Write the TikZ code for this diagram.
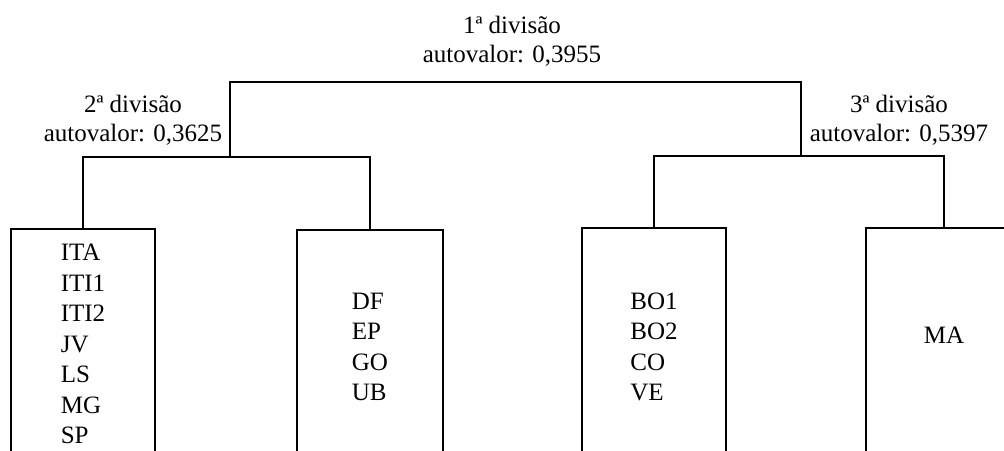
\documentclass[tikz,border=0pt]{standalone}
\usepackage{fontspec}
\setmainfont{Liberation Serif}
\usetikzlibrary{positioning}

\begin{document}
\begin{tikzpicture}[x=1pt, y=-1pt, line width=1.8pt,
  grupo/.style={draw, rectangle, anchor=north, inner sep=0pt, align=left,
    font=\fontsize{25}{30.5}\selectfont},
  rotulo/.style={anchor=south, inner sep=0pt, align=center,
    font=\fontsize{25}{29}\selectfont}]
  \useasboundingbox (0,0) rectangle (1004,450);
  \clip (0,0) rectangle (1004,450);
  % grupos
  \node[grupo, minimum width=144pt, minimum height=230pt] (g1) at (83,228)
    {ITA\\ITI1\\ITI2\\JV\\LS\\MG\\SP};
  \node[grupo, minimum width=146pt, minimum height=234pt] (g2) at (370,229)
    {DF\\EP\\GO\\UB};
  \node[grupo, minimum width=144pt, minimum height=238pt] (g3) at (654,227)
    {BO1\\BO2\\CO\\VE};
  \node[grupo, minimum width=156pt, minimum height=240pt, text depth=24.5pt]
    (g4) at (944,227) {MA};
  % divisiones
  \coordinate (d1) at (512,82);
  \coordinate (d2) at (230,157);
  \coordinate (d3) at (801,156);
  \draw (d2) |- (d1) -| (d3);
  \draw (g1.north) |- (d2) -| (g2.north);
  \draw (g3.north) |- (d3) -| (g4.north);
  \node[rotulo] (l1) at (512,67) {1ª divisão\\autovalor: 0,3955};
  \node[rotulo] (l2) at (133,146) {2ª divisão\\autovalor: 0,3625};
  \node[rotulo] (l3) at (899,146) {3ª divisão\\autovalor: 0,5397};
\end{tikzpicture}
\end{document}
